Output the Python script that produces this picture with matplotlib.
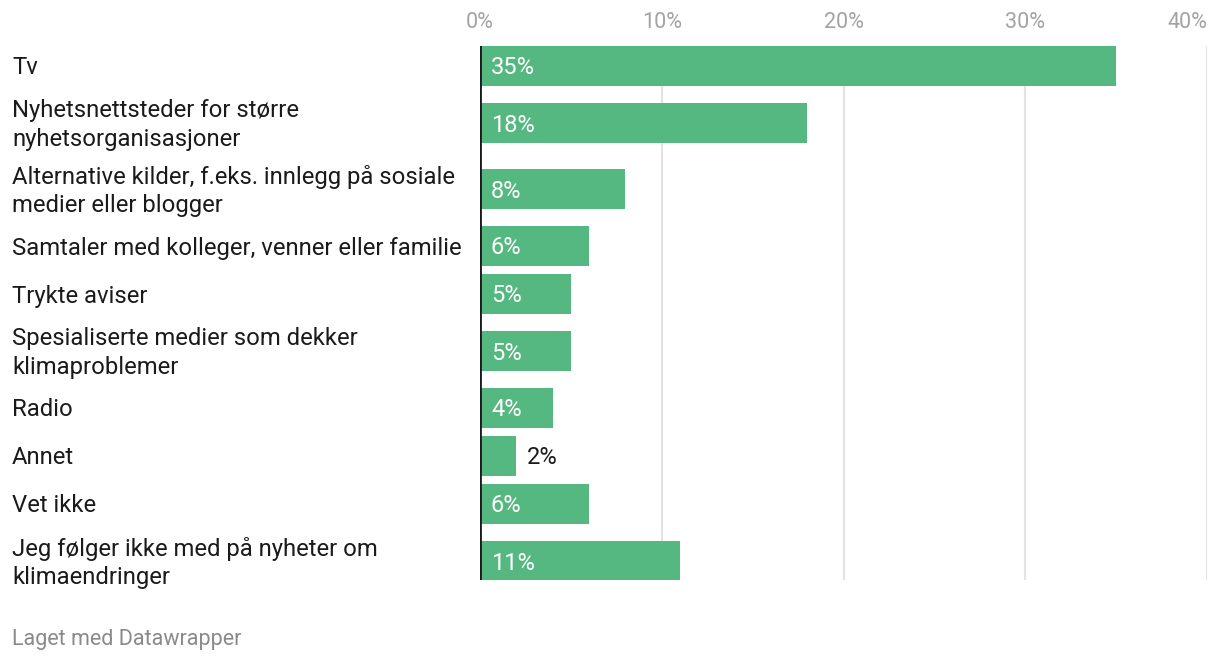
import matplotlib.pyplot as plt
import matplotlib.transforms as transforms

plt.rcParams['font.family'] = ['Roboto', 'DejaVu Sans']

labels = [
    "Tv",
    "Nyhetsnettsteder for større\nnyhetsorganisasjoner",
    "Alternative kilder, f.eks. innlegg på sosiale\nmedier eller blogger",
    "Samtaler med kolleger, venner eller familie",
    "Trykte aviser",
    "Spesialiserte medier som dekker\nklimaproblemer",
    "Radio",
    "Annet",
    "Vet ikke",
    "Jeg følger ikke med på nyheter om\nklimaendringer",
]
values = [35, 18, 8, 6, 5, 5, 4, 2, 6, 11]
ticks = [0, 10, 20, 30, 40]
tick_labels = ["0%", "10%", "20%", "30%", "40%"]

W, H = 1220, 666
fig = plt.figure(figsize=(W / 100, H / 100), dpi=100)
top_px, bot_px = 46, 580
left_px, right_px = 480, 1207
ax = fig.add_axes([left_px / W, 1 - bot_px / H, (right_px - left_px) / W, (bot_px - top_px) / H])

# row layout in pixel units: taller rows for two-line labels
row_h = {1: 48, 2: 66}
centers = []
c = top_px + 20
prev = None
for lab in labels:
    n = lab.count("\n") + 1
    if prev is not None:
        c += (row_h[prev] + row_h[n]) / 2
    centers.append(c)
    prev = n

green = "#56b881"
ax.barh(centers, values, height=40, color=green, zorder=2)

ax.set_xlim(0, 40)
ax.set_ylim(bot_px, top_px)

ax.set_xticks(ticks)
ax.set_xticklabels(tick_labels)
ax.xaxis.tick_top()
ax.tick_params(axis="x", length=0, pad=9, labelsize=15.5, labelcolor="#a3a3a3")
ax.set_yticks([])
ax.get_xticklabels()[-1].set_horizontalalignment("right")
ax.grid(axis="x", color="#e3e3e3", linewidth=1.5, zorder=0)
for s in ax.spines.values():
    s.set_visible(False)
ax.axvline(0, color="#1a1a1a", linewidth=2, zorder=3)

px = 40 / (right_px - left_px)
dy = 2  # nudge text down a bit
for y, v in zip(centers, values):
    if v >= 3:
        ax.text(11 * px, y + dy, f"{v}%", color="white", fontsize=17, va="center", ha="left", zorder=4)
    else:
        ax.text(v + 11 * px, y + dy, f"{v}%", color="#1a1a1a", fontsize=17, va="center", ha="left", zorder=4)

trans = transforms.blended_transform_factory(fig.transFigure, ax.transData)
for y, lab in zip(centers, labels):
    ax.text(12 / W, y + dy, lab, transform=trans, fontsize=17.2, color="#1a1a1a",
            va="center", ha="left", linespacing=1.3)

fig.text(12 / W, 1 - 640 / H, "Laget med Datawrapper", fontsize=15.5, color="#8a8a8a",
         va="center", ha="left")

fig.savefig("out.png", dpi=100)
